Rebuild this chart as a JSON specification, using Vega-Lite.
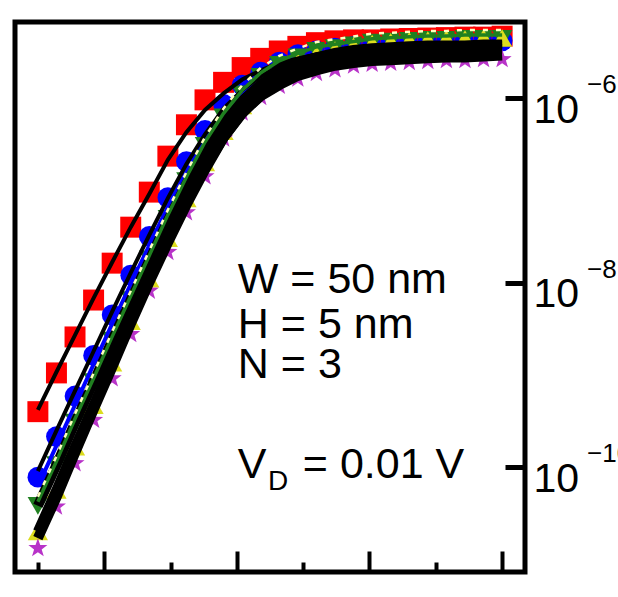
{
 "$schema": "https://vega.github.io/schema/vega-lite/v6.json",
 "width": 510, "height": 550,
 "autosize": "none",
 "padding": {"left": 15, "top": 22, "right": 93, "bottom": 25},
 "background": "white",
 "config": {"view": {"stroke": "black", "strokeWidth": 5}, "font": "Liberation Sans"},
 "datasets": {
  "curves": [
  {"vg":0,"R":-9.40,"B":-10.11,"G":-10.42,"Y":-10.70,"M":-10.88,"fR":-9.38,"fB":-10.11,"fG":-10.42,"fY":-10.70,"fM":-10.77},
  {"vg":0.56,"R":-8.98,"B":-9.67,"G":-9.98,"Y":-10.25,"M":-10.43,"fR":-8.97,"fB":-9.67,"fG":-9.98,"fY":-10.25,"fM":-10.33},
  {"vg":1.12,"R":-8.59,"B":-9.23,"G":-9.52,"Y":-9.78,"M":-9.96,"fR":-8.57,"fB":-9.24,"fG":-9.52,"fY":-9.78,"fM":-9.85},
  {"vg":1.68,"R":-8.19,"B":-8.79,"G":-9.08,"Y":-9.33,"M":-9.49,"fR":-8.17,"fB":-8.81,"fG":-9.08,"fY":-9.33,"fM":-9.38},
  {"vg":2.24,"R":-7.79,"B":-8.35,"G":-8.63,"Y":-8.87,"M":-9.04,"fR":-7.78,"fB":-8.38,"fG":-8.63,"fY":-8.87,"fM":-8.92},
  {"vg":2.8,"R":-7.40,"B":-7.92,"G":-8.19,"Y":-8.42,"M":-8.56,"fR":-7.40,"fB":-7.96,"fG":-8.19,"fY":-8.42,"fM":-8.45},
  {"vg":3.36,"R":-7.02,"B":-7.50,"G":-7.75,"Y":-7.96,"M":-8.09,"fR":-7.04,"fB":-7.55,"fG":-7.76,"fY":-7.97,"fM":-8.00},
  {"vg":3.92,"R":-6.63,"B":-7.08,"G":-7.31,"Y":-7.52,"M":-7.67,"fR":-6.67,"fB":-7.15,"fG":-7.33,"fY":-7.54,"fM":-7.57},
  {"vg":4.48,"R":-6.29,"B":-6.69,"G":-6.90,"Y":-7.09,"M":-7.24,"fR":-6.37,"fB":-6.78,"fG":-6.93,"fY":-7.13,"fM":-7.16},
  {"vg":5.04,"R":-6.02,"B":-6.35,"G":-6.52,"Y":-6.70,"M":-6.85,"fR":-6.13,"fB":-6.46,"fG":-6.57,"fY":-6.76,"fM":-6.78},
  {"vg":5.6,"R":-5.83,"B":-6.07,"G":-6.21,"Y":-6.36,"M":-6.44,"fR":-5.95,"fB":-6.18,"fG":-6.27,"fY":-6.43,"fM":-6.43},
  {"vg":6.16,"R":-5.67,"B":-5.86,"G":-5.96,"Y":-6.08,"M":-6.16,"fR":-5.80,"fB":-5.98,"fG":-6.03,"fY":-6.17,"fM":-6.16},
  {"vg":6.72,"R":-5.57,"B":-5.72,"G":-5.77,"Y":-5.87,"M":-5.99,"fR":-5.70,"fB":-5.83,"fG":-5.85,"fY":-5.97,"fM":-5.98},
  {"vg":7.28,"R":-5.49,"B":-5.61,"G":-5.64,"Y":-5.72,"M":-5.87,"fR":-5.62,"fB":-5.72,"fG":-5.72,"fY":-5.82,"fM":-5.86},
  {"vg":7.84,"R":-5.44,"B":-5.53,"G":-5.56,"Y":-5.61,"M":-5.79,"fR":-5.57,"fB":-5.64,"fG":-5.62,"fY":-5.71,"fM":-5.76},
  {"vg":8.4,"R":-5.40,"B":-5.49,"G":-5.49,"Y":-5.53,"M":-5.73,"fR":-5.53,"fB":-5.59,"fG":-5.56,"fY":-5.63,"fM":-5.70},
  {"vg":8.96,"R":-5.38,"B":-5.46,"G":-5.46,"Y":-5.48,"M":-5.69,"fR":-5.50,"fB":-5.56,"fG":-5.51,"fY":-5.58,"fM":-5.65},
  {"vg":9.52,"R":-5.37,"B":-5.44,"G":-5.43,"Y":-5.44,"M":-5.65,"fR":-5.49,"fB":-5.53,"fG":-5.48,"fY":-5.54,"fM":-5.62},
  {"vg":10.08,"R":-5.37,"B":-5.43,"G":-5.40,"Y":-5.41,"M":-5.63,"fR":-5.48,"fB":-5.51,"fG":-5.46,"fY":-5.52,"fM":-5.60},
  {"vg":10.64,"R":-5.36,"B":-5.41,"G":-5.39,"Y":-5.39,"M":-5.62,"fR":-5.47,"fB":-5.50,"fG":-5.45,"fY":-5.50,"fM":-5.59},
  {"vg":11.2,"R":-5.355,"B":-5.40,"G":-5.38,"Y":-5.38,"M":-5.61,"fR":-5.46,"fB":-5.49,"fG":-5.44,"fY":-5.49,"fM":-5.58},
  {"vg":11.76,"R":-5.35,"B":-5.40,"G":-5.37,"Y":-5.37,"M":-5.60,"fR":-5.46,"fB":-5.485,"fG":-5.43,"fY":-5.485,"fM":-5.57},
  {"vg":12.32,"R":-5.345,"B":-5.39,"G":-5.37,"Y":-5.36,"M":-5.59,"fR":-5.45,"fB":-5.48,"fG":-5.43,"fY":-5.48,"fM":-5.56},
  {"vg":12.88,"R":-5.34,"B":-5.39,"G":-5.36,"Y":-5.36,"M":-5.59,"fR":-5.45,"fB":-5.48,"fG":-5.43,"fY":-5.48,"fM":-5.56},
  {"vg":13.44,"R":-5.34,"B":-5.38,"G":-5.36,"Y":-5.35,"M":-5.58,"fR":-5.45,"fB":-5.47,"fG":-5.42,"fY":-5.47,"fM":-5.55},
  {"vg":14,"R":-5.33,"B":-5.38,"G":-5.36,"Y":-5.35,"M":-5.58,"fR":-5.44,"fB":-5.47,"fG":-5.42,"fY":-5.47,"fM":-5.54}
  ],
  "one": [{"k": 1}],
  "exps": [{"tick": -6, "exp": "−6"}, {"tick": -8, "exp": "−8"}, {"tick": -10, "exp": "−10"}]
 },
 "data": {"name": "curves"},
 "layer": [
  {
   "transform": [{"fold": ["R","B","G","Y","M"], "as": ["s","v"]}],
   "mark": {"type": "point", "filled": true, "opacity": 1, "strokeWidth": 0},
   "encoding": {
    "x": {"field": "vg", "type": "quantitative", "title": null,
      "scale": {"domain": [-0.69, 14.69], "nice": false, "zero": false},
      "axis": {"orient": "bottom", "values": [0,1,2,3,4,5,6,7,8,9,10,11,12,13,14], "labels": false, "domain": false, "grid": false,
        "tickColor": "black", "tickWidth": 4,
        "tickSize": {"condition": {"test": "datum.value % 4 == 2", "value": -21}, "value": -10}}},
    "y": {"field": "v", "type": "quantitative", "title": null,
      "scale": {"domain": [-11.138, -5.176], "nice": false, "zero": false},
      "axis": {"orient": "right", "values": [-10,-8,-6], "labelExpr": "'10'", "labelFontSize": 41, "labelFont": "Liberation Sans",
        "labelColor": "black", "labelBaseline": "alphabetic", "labelOffset": 24, "labelPadding": 28,
        "tickSize": -20, "tickWidth": 5, "tickColor": "black", "domain": false, "grid": false}},
    "color": {"field": "s", "type": "nominal", "legend": null,
      "scale": {"domain": ["R","B","G","Y","M"], "range": ["#ff0000","#0000ff","#208020","#dcdc1e","#b833c8"]}},
    "shape": {"field": "s", "type": "nominal", "legend": null,
      "scale": {"domain": ["R","B","G","Y","M"], "range": ["square","circle","triangle-down","triangle-up","M0,-1L0.235,-0.324L0.951,-0.309L0.38,0.124L0.588,0.809L0,0.4L-0.588,0.809L-0.38,0.124L-0.951,-0.309L-0.235,-0.324Z"]}},
    "size": {"field": "s", "type": "ordinal", "legend": null,
      "scale": {"domain": ["R","B","G","Y","M"], "range": [440, 400, 320, 320, 520]}}
   }
  },
  {
   "mark": {"type": "line", "color": "#0000ff", "strokeWidth": 4, "yOffset": 9},
   "encoding": {
    "x": {"field": "vg", "type": "quantitative", "title": null},
    "y": {"field": "B", "type": "quantitative", "title": null}
   }
  },
  {
   "mark": {"type": "line", "color": "black", "strokeWidth": 4},
   "encoding": {
    "x": {"field": "vg", "type": "quantitative", "title": null},
    "y": {"field": "fR", "type": "quantitative", "title": null}
   }
  },
  {
   "mark": {"type": "line", "color": "black", "strokeWidth": 4, "yOffset": -6},
   "encoding": {
    "x": {"field": "vg", "type": "quantitative", "title": null},
    "y": {"field": "fB", "type": "quantitative", "title": null}
   }
  },
  {
   "transform": [{"fold": ["fG","fY","fM"], "as": ["s","v"]}],
   "mark": {"type": "line", "color": "black", "strokeWidth": 10},
   "encoding": {
    "x": {"field": "vg", "type": "quantitative", "title": null},
    "y": {"field": "v", "type": "quantitative", "title": null},
    "detail": {"field": "s", "type": "nominal"}
   }
  },
  {
   "mark": {"type": "line", "color": "#208020", "strokeWidth": 3.5, "yOffset": -4},
   "encoding": {
    "x": {"field": "vg", "type": "quantitative", "title": null},
    "y": {"field": "G", "type": "quantitative", "title": null}
   }
  },
  {
   "mark": {"type": "line", "color": "#ffffc0", "strokeWidth": 2.5, "strokeDash": [5, 8], "yOffset": -9},
   "encoding": {
    "x": {"field": "vg", "type": "quantitative", "title": null},
    "y": {"field": "G", "type": "quantitative", "title": null}
   }
  },
  {
   "data": {"name": "one"},
   "layer": [
    {
     "mark": {"type": "text", "align": "left", "baseline": "alphabetic", "fontSize": 43, "font": "Liberation Sans", "color": "black"},
     "encoding": {"x": {"datum": 6.03, "type": "quantitative"}, "y": {"datum": -8.11, "type": "quantitative"}, "text": {"value": "W = 50 nm"}}
    },
    {
     "mark": {"type": "text", "align": "left", "baseline": "alphabetic", "fontSize": 43, "font": "Liberation Sans", "color": "black"},
     "encoding": {"x": {"datum": 6.03, "type": "quantitative"}, "y": {"datum": -8.60, "type": "quantitative"}, "text": {"value": "H = 5 nm"}}
    },
    {
     "mark": {"type": "text", "align": "left", "baseline": "alphabetic", "fontSize": 43, "font": "Liberation Sans", "color": "black"},
     "encoding": {"x": {"datum": 6.03, "type": "quantitative"}, "y": {"datum": -9.035, "type": "quantitative"}, "text": {"value": "N = 3"}}
    },
    {
     "mark": {"type": "text", "align": "left", "baseline": "alphabetic", "fontSize": 43, "font": "Liberation Sans", "color": "black"},
     "encoding": {"x": {"datum": 6.03, "type": "quantitative"}, "y": {"datum": -10.12, "type": "quantitative"}, "text": {"value": "V"}}
    },
    {
     "mark": {"type": "text", "align": "left", "baseline": "alphabetic", "fontSize": 28, "font": "Liberation Sans", "color": "black"},
     "encoding": {"x": {"datum": 6.94, "type": "quantitative"}, "y": {"datum": -10.25, "type": "quantitative"}, "text": {"value": "D"}}
    },
    {
     "mark": {"type": "text", "align": "left", "baseline": "alphabetic", "fontSize": 43, "font": "Liberation Sans", "color": "black"},
     "encoding": {"x": {"datum": 7.99, "type": "quantitative"}, "y": {"datum": -10.12, "type": "quantitative"}, "text": {"value": "= 0.01 V"}}
    }
   ]
  },
  {
   "data": {"name": "exps"},
   "mark": {"type": "text", "align": "left", "baseline": "alphabetic", "fontSize": 26, "font": "Liberation Sans", "color": "black", "dx": 62, "dy": -5},
   "encoding": {
    "x": {"datum": 14.69, "type": "quantitative"},
    "y": {"field": "tick", "type": "quantitative", "title": null},
    "text": {"field": "exp"}
   }
  }
 ]
}
